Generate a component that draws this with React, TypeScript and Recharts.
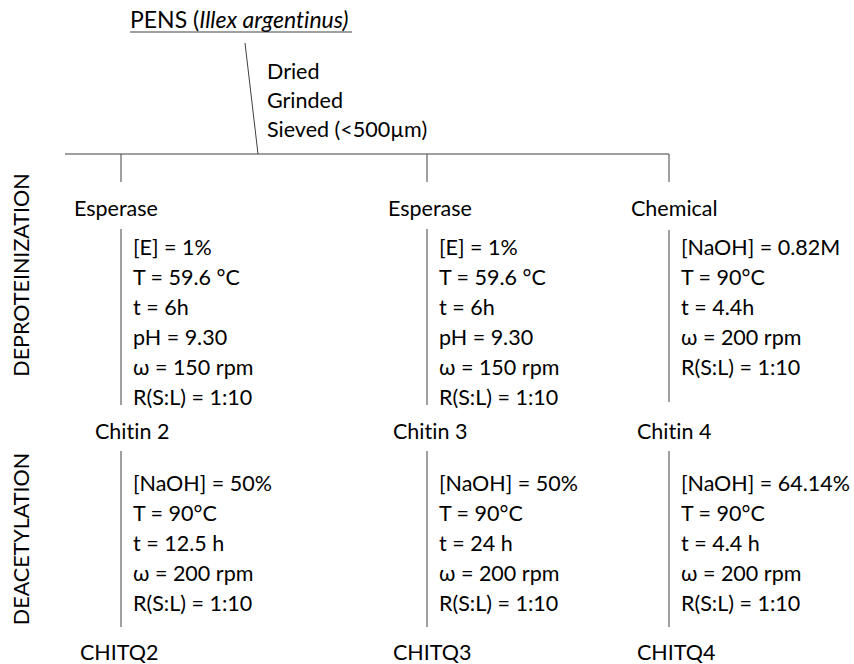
import React from 'react';
import { ScatterChart, Scatter, XAxis, YAxis, ReferenceLine } from 'recharts';

// text content of the flow diagram
const stageLabels = ['DEPROTEINIZATION', 'DEACETYLATION'];
const pretreatment = ['Dried', 'Grinded', 'Sieved (<500µm)'];
const methods = ['Esperase', 'Esperase', 'Chemical'];
const deproteinization = [
  ['[E] = 1%', 'T = 59.6 °C', 't = 6h', 'pH = 9.30', 'ω = 150 rpm', 'R(S:L) = 1:10'],
  ['[E] = 1%', 'T = 59.6 °C', 't = 6h', 'pH = 9.30', 'ω = 150 rpm', 'R(S:L) = 1:10'],
  ['[NaOH] = 0.82M', 'T = 90°C', 't = 4.4h', 'ω = 200 rpm', 'R(S:L) = 1:10'],
];
const chitins = ['Chitin 2', 'Chitin 3', 'Chitin 4'];
const deacetylation = [
  ['[NaOH] = 50%', 'T = 90°C', 't = 12.5 h', 'ω = 200 rpm', 'R(S:L) = 1:10'],
  ['[NaOH] = 50%', 'T = 90°C', 't = 24 h', 'ω = 200 rpm', 'R(S:L) = 1:10'],
  ['[NaOH] = 64.14%', 'T = 90°C', 't = 4.4 h', 'ω = 200 rpm', 'R(S:L) = 1:10'],
];
const products = ['CHITQ2', 'CHITQ3', 'CHITQ4'];

// layout (diagram coordinates)
const W = 854;
const H = 664;
const branchX = [121, 427, 669];
const methodX = [74, 388, 631];
const chitinX = [95, 393, 637];
const productX = [80, 393, 637];
const FONT = 'Lato, "Open Sans", sans-serif';
const FS = 21.5;
const LINE = '#404040';
const noLig = { fontVariantLigatures: 'none' as const };

type TextPoint = { x: number; y: number; text: string };

const textPoints: TextPoint[] = [];
pretreatment.forEach((t, i) => textPoints.push({ x: 267, y: 71 + i * 29, text: t }));
methods.forEach((t, i) => textPoints.push({ x: methodX[i], y: 208, text: t }));
deproteinization.forEach((rows, c) =>
  rows.forEach((t, r) => textPoints.push({ x: branchX[c] + 12, y: 247 + r * 30, text: t }))
);
chitins.forEach((t, i) => textPoints.push({ x: chitinX[i], y: 431, text: t }));
deacetylation.forEach((rows, c) =>
  rows.forEach((t, r) => textPoints.push({ x: branchX[c] + 12, y: 483 + r * 30, text: t }))
);
products.forEach((t, i) => textPoints.push({ x: productX[i], y: 652, text: t }));

const stagePoints: TextPoint[] = [
  { x: 21, y: 275, text: stageLabels[0] },
  { x: 21, y: 539, text: stageLabels[1] },
];

const titlePoint = [{ x: 130, y: 20, text: 'PENS' }];

type Seg = [[number, number], [number, number]];
const segments: Seg[] = [
  [[130, 32], [352, 32]], // title underline
  [[245, 43], [258, 154]],
  [[65, 154], [669, 154]],
  ...branchX.map((x): Seg => [[x, 154], [x, 182]]),
  [[121, 229], [121, 405]],
  [[427, 229], [427, 405]],
  [[669, 230], [669, 402]],
  ...branchX.map((x): Seg => [[x, 451], [x, 627]]),
];

const PlainText = (props: any) => {
  const { cx, cy, payload } = props;
  return (
    <text x={cx} y={cy} dy="0.35em" fontFamily={FONT} fontSize={FS} fill="#000" style={noLig}>
      {payload.text}
    </text>
  );
};

const StageText = (props: any) => {
  const { cx, cy, payload } = props;
  return (
    <text
      x={cx}
      y={cy}
      dy="0.35em"
      textAnchor="middle"
      transform={`rotate(-90 ${cx} ${cy})`}
      fontFamily={FONT}
      fontSize={FS}
      fill="#000"
    >
      {payload.text}
    </text>
  );
};

const TitleText = (props: any) => {
  const { cx, cy } = props;
  return (
    <text x={cx} y={cy} dy="0.35em" fontFamily={FONT} fontSize={23} fill="#000" style={noLig}>
      PENS (<tspan fontStyle="italic">Illex argentinus)</tspan>
    </text>
  );
};

export default function App() {
  return (
    <div style={{ position: 'absolute', left: 0, top: 0, background: '#fff' }}>
      <ScatterChart width={W} height={H} margin={{ top: 0, right: 0, bottom: 0, left: 0 }}>
        <XAxis type="number" dataKey="x" domain={[0, W]} hide />
        <YAxis type="number" dataKey="y" domain={[0, H]} reversed hide />
        {segments.map((s, i) => (
          <ReferenceLine
            key={i}
            segment={[{ x: s[0][0], y: s[0][1] }, { x: s[1][0], y: s[1][1] }]}
            stroke={LINE}
            strokeWidth={1}
          />
        ))}
        <Scatter data={textPoints} shape={PlainText} isAnimationActive={false} />
        <Scatter data={stagePoints} shape={StageText} isAnimationActive={false} />
        <Scatter data={titlePoint} shape={TitleText} isAnimationActive={false} />
      </ScatterChart>
    </div>
  );
}
